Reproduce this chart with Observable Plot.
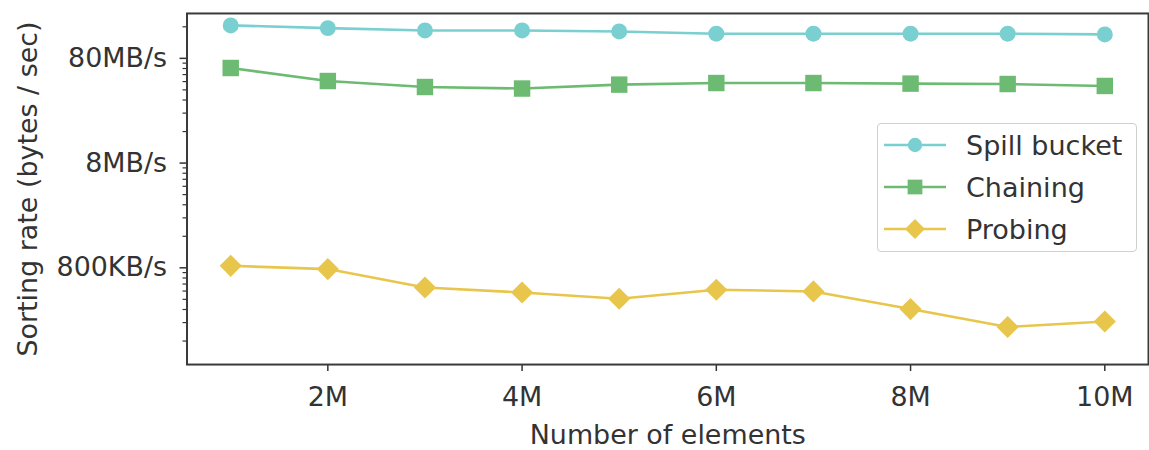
<!DOCTYPE html>
<html>
<head>
<meta charset="utf-8">
<script src="https://cdn.jsdelivr.net/npm/d3@7"></script>
<script src="https://cdn.jsdelivr.net/npm/@observablehq/plot@0.6"></script>
<style>
  html, body { margin: 0; padding: 0; background: #fff; overflow: hidden; }
  #wrap { position: relative; width: 1149px; height: 450px; overflow: hidden; }
  #wrap svg { display: block; }
  #legend {
    position: absolute; left: 877px; top: 123px; width: 260px; height: 129px;
    border: 1px solid #d0d0d0; border-radius: 4px; background: rgba(255,255,255,0.85);
    box-sizing: border-box; font-family: "DejaVu Sans", sans-serif; font-size: 27px; color: #333;
  }
  .lg-row { position: absolute; left: 0; height: 40px; display: flex; align-items: center; }
  .lg-row svg { margin-left: 6px; margin-right: 20px; }
</style>
</head>
<body>
<div id="wrap"></div>
<script>
// ---- data ----
const elements = [1e6, 2e6, 3e6, 4e6, 5e6, 6e6, 7e6, 8e6, 9e6, 1e7];
const spillBucket = [1.65e8, 1.555e8, 1.478e8, 1.478e8, 1.446e8, 1.375e8, 1.375e8, 1.375e8, 1.375e8, 1.354e8];
const chaining    = [6.47e7, 4.86e7, 4.26e7, 4.12e7, 4.49e7, 4.65e7, 4.65e7, 4.59e7, 4.55e7, 4.36e7];
const probing     = [8.36e5, 7.78e5, 5.19e5, 4.65e5, 4.05e5, 4.94e5, 4.76e5, 3.23e5, 2.18e5, 2.46e5];

const seriesNames   = ["Spill bucket", "Chaining", "Probing"];
const seriesValues  = [spillBucket, chaining, probing];
const seriesColors  = ["#7acfd0", "#6dbb72", "#e8c64c"];
const seriesSymbols = ["circle", "square", "diamond2"];
const seriesR       = [8, 9.3, 10];

const xTicks      = [2e6, 4e6, 6e6, 8e6, 1e7];
const xTickLabels = ["2M", "4M", "6M", "8M", "10M"];
const yTicks      = [8e5, 8e6, 8e7];
const yTickLabels = ["800KB/s", "8MB/s", "80MB/s"];

// ---- helpers ----
function labelFor(ticks, labels) {
  return (d, i) => {
    const v = +d;
    let k = ticks.findIndex(t => Math.abs(t - v) <= Math.abs(t) * 1e-9);
    if (k < 0 && typeof i === "number") k = i;
    return k >= 0 && k < labels.length ? labels[k] : "";
  };
}

const yDomain = [9.54e4, 2.146e8];
// minor ticks: m * major/10 for m = 2..9 in each decade (also the decade above the top major)
const minors = [];
for (const t of [...yTicks, yTicks[yTicks.length - 1] * 10]) {
  for (let m = 2; m <= 9; m++) {
    const v = t * m / 10;
    if (v >= yDomain[0] && v <= yDomain[1]) minors.push(v);
  }
}

const marks = [];
marks.push(Plot.axisY({
  ticks: minors, tickSize: 4, tickFormat: () => "", label: null,
  stroke: "#333", strokeWidth: 1.2
}));
marks.push(Plot.axisY({
  ticks: yTicks, tickSize: 7, tickFormat: () => "",
  label: "Sorting rate (bytes / sec)", labelAnchor: "center", labelOffset: 170, labelArrow: "none",
  stroke: "#333", strokeWidth: 1.5, fill: "#333"
}));
// major y tick labels (the log scale's own formatter hides 8×10^k labels, so draw them via the y scale)
marks.push(Plot.text(yTicks, {
  y: d => d, text: (d, i) => yTickLabels[i],
  frameAnchor: "left", textAnchor: "end", dx: -20, fill: "#333"
}));
marks.push(Plot.axisX({
  ticks: xTicks, tickSize: 7, tickPadding: 15,
  tickFormat: labelFor(xTicks, xTickLabels),
  label: "Number of elements", labelAnchor: "center", labelOffset: 80, labelArrow: "none",
  stroke: "#333", strokeWidth: 1.5, fill: "#333"
}));

seriesNames.forEach((name, i) => {
  const rows = elements.map((x, j) => ({ x, y: seriesValues[i][j] }));
  marks.push(Plot.line(rows, { x: "x", y: "y", stroke: seriesColors[i], strokeWidth: 2.6 }));
  marks.push(Plot.dot(rows, { x: "x", y: "y", fill: seriesColors[i], symbol: seriesSymbols[i], r: seriesR[i], stroke: "none" }));
});
marks.push(Plot.frame({ stroke: "#3a3a3a", strokeWidth: 2 }));

const chart = Plot.plot({
  width: 1152, height: 450,
  marginLeft: 187, marginRight: 1, marginTop: 13, marginBottom: 85,
  style: { fontFamily: "DejaVu Sans, sans-serif", fontSize: "27px", color: "#333", background: "#fff", overflow: "visible" },
  x: { domain: [0.55e6, 10.45e6] },
  y: { type: "log", domain: yDomain },
  marks
});
document.getElementById("wrap").appendChild(chart);

// ---- legend ----
const legend = document.createElement("div");
legend.id = "legend";
const symMap = { circle: d3.symbolCircle, square: d3.symbolSquare, diamond2: d3.symbolDiamond2 };
seriesNames.forEach((name, i) => {
  const row = document.createElement("div");
  row.className = "lg-row";
  row.style.top = (i * 42 + 1) + "px";
  const svg = d3.create("svg").attr("width", 62).attr("height", 30);
  svg.append("line").attr("x1", 0).attr("x2", 62).attr("y1", 15).attr("y2", 15)
    .attr("stroke", seriesColors[i]).attr("stroke-width", 2.6);
  svg.append("path").attr("transform", "translate(31,15)")
    .attr("d", d3.symbol(symMap[seriesSymbols[i]], Math.PI * seriesR[i] * seriesR[i] * 0.8)())
    .attr("fill", seriesColors[i]);
  row.appendChild(svg.node());
  const span = document.createElement("span");
  span.textContent = name;
  row.appendChild(span);
  legend.appendChild(row);
});
document.getElementById("wrap").appendChild(legend);
</script>
</body>
</html>
